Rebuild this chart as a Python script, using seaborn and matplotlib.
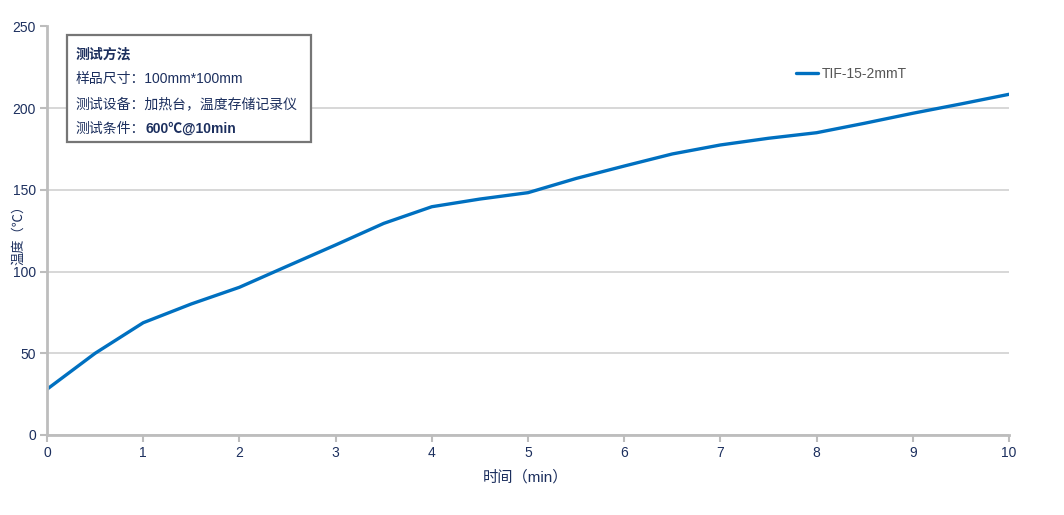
import pandas as pd
import numpy as np
import seaborn as sns
import matplotlib.pyplot as plt
from matplotlib.patches import Rectangle

# data
time_min = [0, 0.5, 1, 1.5, 2, 2.5, 3, 3.5, 4, 4.5, 5,
            5.5, 6, 6.5, 7, 7.5, 8, 8.5, 9, 9.5, 10]
temp_c = [28.0, 50.0, 68.7, 80.2, 90.4, 103.4, 116.3, 129.5, 139.7, 144.4, 148.3,
          157.0, 164.6, 172.0, 177.5, 181.6, 185.0, 190.8, 196.9, 202.6, 208.5]
series_name = 'TIF-15-2mmT'
x_ticks = list(range(0, 11))
y_ticks = [0, 50, 100, 150, 200, 250]
info_lines = ['样品尺寸：100mm*100mm', '测试设备：加热台，温度存储记录仪']

W, H = 1064, 515
TXT = '#1c2f5e'
FONTS = ['Liberation Sans', 'Noto Sans CJK SC', 'DejaVu Sans']


def fx(px):
    return px / W


def fy(py):
    return 1 - py / H


def main():
    sns.set_theme(style='white')
    plt.rcParams['font.family'] = FONTS

    df = pd.DataFrame({'time': time_min, 'temp': temp_c})

    fig = plt.figure(figsize=(W / 100, H / 100), dpi=100)
    ax = fig.add_axes([fx(47), fy(435), fx(1009) - fx(47), fy(26.5) - fy(435)])

    sns.lineplot(data=df, x='time', y='temp', ax=ax, color='#0070c0',
                 linewidth=2.4, label=series_name)

    ax.set_xlim(0, 10)
    ax.set_ylim(0, 250)
    ax.set_xticks(x_ticks)
    ax.set_yticks(y_ticks)
    ax.yaxis.grid(True, color='#d4d4d4', linewidth=1.3)
    ax.xaxis.grid(False)
    for s in ['top', 'right']:
        ax.spines[s].set_visible(False)
    for s in ['left', 'bottom']:
        ax.spines[s].set_color('#bdbdbd')
        ax.spines[s].set_linewidth(2)
    ax.tick_params(axis='both', colors='#bdbdbd', labelcolor=TXT, labelsize=10,
                   length=5, width=1.5, pad=3, bottom=True, left=True)
    ax.set_xlabel('')
    ax.set_ylabel('')

    fig.text(fx(525), fy(477), '时间（min）', color=TXT, fontsize=11,
             ha='center', va='center')
    fig.text(fx(19), fy(232), '温度（℃）', color=TXT, fontsize=9.5,
             ha='center', va='center', rotation=90)

    leg = ax.legend(loc='upper left', bbox_to_anchor=(fx(783), fy(54)),
                    bbox_transform=fig.transFigure, frameon=False,
                    handlelength=1.6, handletextpad=0.3, fontsize=10)
    for t in leg.get_texts():
        t.set_color('#555555')

    # info box
    box = Rectangle((fx(67), fy(142)), fx(311) - fx(67), fy(35) - fy(142),
                    transform=fig.transFigure, facecolor='white',
                    edgecolor='#767676', linewidth=1.6, zorder=5, clip_on=False)
    fig.patches.append(box)
    fig.text(fx(76), fy(55), '测试方法', color=TXT, fontsize=10,
             fontweight='bold', va='center', zorder=6)
    for i, line in enumerate(info_lines):
        fig.text(fx(76), fy(79 + 25 * i), line, color=TXT, fontsize=10,
                 va='center', zorder=6)
    fig.text(fx(76), fy(129), '测试条件：', color=TXT, fontsize=10,
             va='center', zorder=6)
    fig.text(fx(145), fy(129), '600℃@10min', color=TXT, fontsize=10,
             fontweight='bold', va='center', zorder=6)

    fig.savefig('out.png', dpi=100)


if __name__ == "__main__":
    main()
